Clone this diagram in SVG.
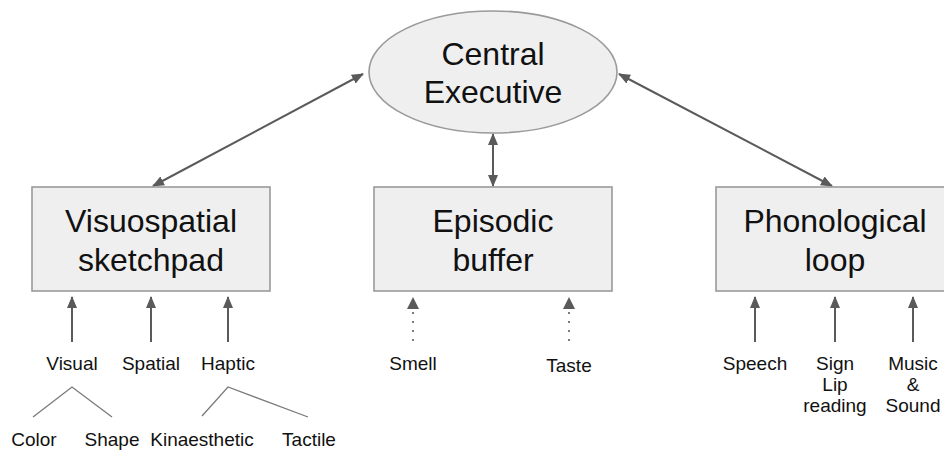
<svg xmlns="http://www.w3.org/2000/svg" width="944" height="450" viewBox="0 0 944 450">
<defs>
<style>
.node{fill:#efefef;stroke:#9a9a9a;stroke-width:1.6}
.big{font-family:"Liberation Sans",Arial,sans-serif;font-size:32px;fill:#111;text-anchor:middle}
.lbl{font-family:"Liberation Sans",Arial,sans-serif;font-size:19px;fill:#111;text-anchor:middle}
.arr{stroke:#5a5a5a;stroke-width:2;fill:none}
.dot{stroke:#7a7a7a;stroke-width:2;fill:none;stroke-dasharray:2 7}
.tree{stroke:#7a7a7a;stroke-width:1.3;fill:none}
</style>
<marker id="ah" viewBox="0 0 12 10" refX="11" refY="5" markerWidth="12" markerHeight="10" markerUnits="userSpaceOnUse" orient="auto-start-reverse">
<path d="M0,0 L12,5 L0,10 z" fill="#5a5a5a"/>
</marker>
</defs>
<rect width="944" height="450" fill="#ffffff"/>
<g id="connectors">
<line class="arr" x1="363" y1="74" x2="153" y2="186" marker-start="url(#ah)" marker-end="url(#ah)"/>
<line class="arr" x1="493" y1="134" x2="493" y2="186" marker-start="url(#ah)" marker-end="url(#ah)"/>
<line class="arr" x1="619" y1="74" x2="832" y2="186" marker-start="url(#ah)" marker-end="url(#ah)"/>
<line class="arr" x1="72" y1="342" x2="72" y2="297" marker-end="url(#ah)"/>
<line class="arr" x1="151" y1="342" x2="151" y2="297" marker-end="url(#ah)"/>
<line class="arr" x1="228" y1="342" x2="228" y2="297" marker-end="url(#ah)"/>
<line class="dot" x1="413" y1="341" x2="413" y2="306"/>
<path d="M407,309 L413,297 L419,309 z" fill="#5a5a5a"/>
<line class="dot" x1="569" y1="341" x2="569" y2="306"/>
<path d="M563,309 L569,297 L575,309 z" fill="#5a5a5a"/>
<line class="arr" x1="755" y1="342" x2="755" y2="297" marker-end="url(#ah)"/>
<line class="arr" x1="835" y1="342" x2="835" y2="297" marker-end="url(#ah)"/>
<line class="arr" x1="913" y1="342" x2="913" y2="297" marker-end="url(#ah)"/>
<polyline class="tree" points="33,417 72,387 112,417"/>
<polyline class="tree" points="202,416 228,387 308,417"/>
</g>
<g id="central-executive">
<ellipse class="node" cx="493" cy="72" rx="124" ry="61"/>
<text class="big" x="493" y="65">Central</text>
<text class="big" x="493" y="103">Executive</text>
</g>
<g id="visuospatial-sketchpad">
<rect class="node" x="32" y="187" width="238" height="104"/>
<text class="big" x="151" y="232">Visuospatial</text>
<text class="big" x="151" y="271">sketchpad</text>
</g>
<g id="episodic-buffer">
<rect class="node" x="374" y="187" width="238" height="104"/>
<text class="big" x="493" y="232">Episodic</text>
<text class="big" x="493" y="271">buffer</text>
</g>
<g id="phonological-loop">
<rect class="node" x="716" y="187" width="238" height="104"/>
<text class="big" x="835" y="232">Phonological</text>
<text class="big" x="835" y="271">loop</text>
</g>
<g id="visual"><text class="lbl" x="72" y="370">Visual</text></g>
<g id="spatial"><text class="lbl" x="151" y="370">Spatial</text></g>
<g id="haptic"><text class="lbl" x="228" y="370">Haptic</text></g>
<g id="color"><text class="lbl" x="34" y="446">Color</text></g>
<g id="shape"><text class="lbl" x="112" y="446">Shape</text></g>
<g id="kinaesthetic"><text class="lbl" x="202" y="446">Kinaesthetic</text></g>
<g id="tactile"><text class="lbl" x="309" y="446">Tactile</text></g>
<g id="smell"><text class="lbl" x="413" y="370">Smell</text></g>
<g id="taste"><text class="lbl" x="569" y="372">Taste</text></g>
<g id="speech"><text class="lbl" x="755" y="370">Speech</text></g>
<g id="sign-lip-reading"><text class="lbl" x="835" y="370">Sign</text><text class="lbl" x="835" y="391">Lip</text><text class="lbl" x="835" y="412">reading</text></g>
<g id="music-sound"><text class="lbl" x="913" y="370">Music</text><text class="lbl" x="913" y="391">&amp;</text><text class="lbl" x="913" y="412">Sound</text></g>
</svg>
